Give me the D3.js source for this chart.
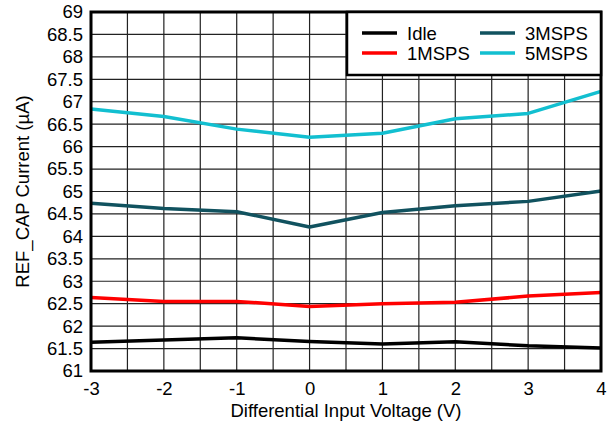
<!DOCTYPE html>
<html><head><meta charset="utf-8">
<script src="https://cdn.jsdelivr.net/npm/d3@7"></script>
<style>body{margin:0;background:#fff}svg text{font-family:"Liberation Sans",Arial,sans-serif;}</style>
</head><body>
<svg id="c" width="613" height="423"></svg>
<script>
const xValues = [-3, -2, -1, 0, 1, 2, 3, 4];
const idle    = [61.64, 61.69, 61.74, 61.66, 61.60, 61.65, 61.56, 61.51];
const msps1   = [62.64, 62.55, 62.55, 62.44, 62.50, 62.53, 62.67, 62.75];
const msps3   = [64.74, 64.62, 64.55, 64.21, 64.53, 64.68, 64.78, 65.01];
const msps5   = [66.84, 66.67, 66.39, 66.21, 66.30, 66.62, 66.74, 67.23];
const seriesNames = ["Idle", "1MSPS", "3MSPS", "5MSPS"];
const seriesColors = ["#000000", "#ff0000", "#11525f", "#12bfd0"];
const xTicks = [-3, -2, -1, 0, 1, 2, 3, 4];
const yTicks = [61, 61.5, 62, 62.5, 63, 63.5, 64, 64.5, 65, 65.5, 66, 66.5, 67, 67.5, 68, 68.5, 69];

const FS = 18.5;
const series = [idle, msps1, msps3, msps5];
const svg = d3.select("#c");
const L = 91, R = 601, T = 12, B = 371;
const x = d3.scaleLinear().domain([-3, 4]).range([L, R]);
const y = d3.scaleLinear().domain([61, 69]).range([B, T]);

// grid
const gx = d3.range(-3, 4.001, 0.5);
svg.append("g").selectAll("line").data(gx).join("line")
  .attr("x1", d => x(d)).attr("x2", d => x(d)).attr("y1", T).attr("y2", B)
  .attr("stroke", "#222").attr("stroke-width", 1.2);
svg.append("g").selectAll("line").data(yTicks).join("line")
  .attr("y1", d => y(d)).attr("y2", d => y(d)).attr("x1", L).attr("x2", R)
  .attr("stroke", "#222").attr("stroke-width", 1.2);

// axes labels via d3 axes
const xAxis = svg.append("g").attr("transform", `translate(0,${B})`)
  .call(d3.axisBottom(x).tickValues(xTicks).tickSize(0).tickPadding(11).tickFormat(d => String(d)));
xAxis.select(".domain").remove();
xAxis.selectAll("text").attr("font-size", FS).attr("fill", "#000");
const yAxis = svg.append("g").attr("transform", `translate(${L},0)`)
  .call(d3.axisLeft(y).tickValues(yTicks).tickSize(0).tickPadding(8).tickFormat(d => String(d)));
yAxis.select(".domain").remove();
yAxis.selectAll("text").attr("font-size", FS).attr("fill", "#000");

// lines
const line = d3.line().x((d, i) => x(xValues[i])).y(d => y(d));
series.forEach((s, i) => {
  svg.append("path").datum(s).attr("d", line).attr("fill", "none")
    .attr("stroke", seriesColors[i]).attr("stroke-width", 3.5).attr("stroke-linejoin", "round");
});

// frame
svg.append("rect").attr("x", L).attr("y", T).attr("width", R - L).attr("height", B - T)
  .attr("fill", "none").attr("stroke", "#000").attr("stroke-width", 3);

// legend
const lg = svg.append("g");
lg.append("rect").attr("x", 347).attr("y", T).attr("width", R - 347).attr("height", 63)
  .attr("fill", "#fff").attr("stroke", "#000").attr("stroke-width", 2.5);
const legPos = [[362, 33], [362, 53], [480, 33], [480, 53]];
seriesNames.forEach((n, i) => {
  const [lx, ly] = legPos[i];
  lg.append("line").attr("x1", lx).attr("x2", lx + 35).attr("y1", ly).attr("y2", ly)
    .attr("stroke", seriesColors[i]).attr("stroke-width", 3.5);
  lg.append("text").attr("x", lx + 45).attr("y", ly + 7).attr("font-size", FS).text(n);
});

// titles
svg.append("text").attr("x", 346).attr("y", 417).attr("text-anchor", "middle")
  .attr("font-size", FS).text("Differential Input Voltage (V)");
svg.append("text").attr("transform", `translate(29,${(T + B) / 2}) rotate(-90)`)
  .attr("text-anchor", "middle").attr("font-size", FS).text("REF_CAP Current (µA)");
</script>
</body></html>
